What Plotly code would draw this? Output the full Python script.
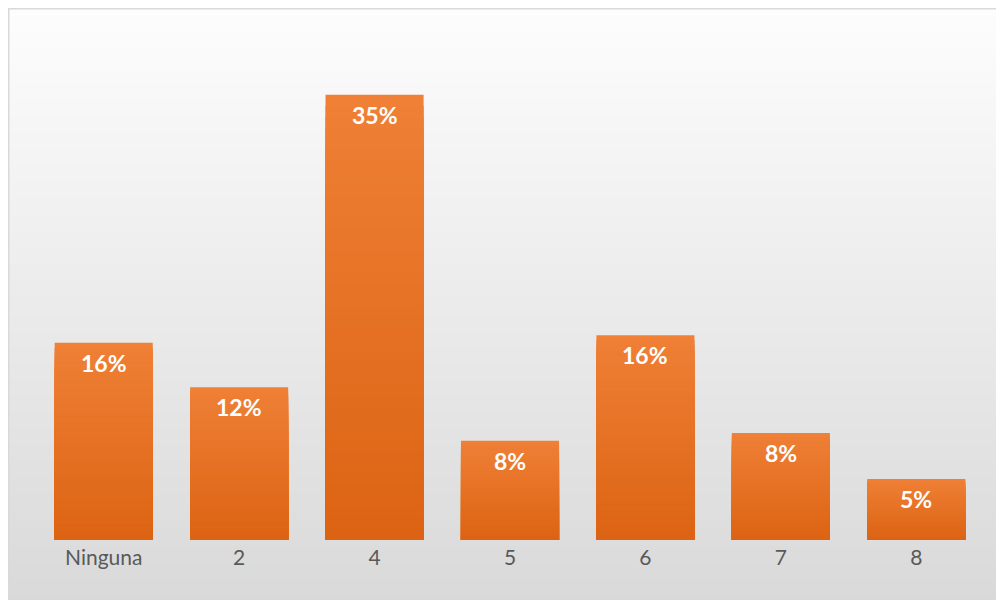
import base64
import struct
import zlib

import plotly.graph_objects as go

# ---- data ----
categories = ["Ninguna", "2", "4", "5", "6", "7", "8"]
values = [15.5, 12.0, 35.0, 7.8, 16.1, 8.4, 4.8]
labels = ["16%", "12%", "35%", "8%", "16%", "8%", "5%"]

# ---- style ----
OFF = 8  # browser body margin
W, H = 1004 - OFF, 600
ML, MR, MT, MB = 36 - OFF, 20, 31 - OFF, 68
TOP_COL = (0xEF, 0x80, 0x36)
BOT_COL = (0xDC, 0x63, 0x13)
N_STEPS = 40


def lerp(c1, c2, t):
    return tuple(round(a + (b - a) * t) for a, b in zip(c1, c2))


def gradient_png(top, bottom, n=256):
    raw = b""
    for i in range(n):
        t = i / (n - 1)
        g = round(top + (bottom - top) * t)
        raw += b"\x00" + bytes([g])

    def chunk(tag, data):
        c = struct.pack(">I", len(data)) + tag + data
        return c + struct.pack(">I", zlib.crc32(tag + data) & 0xFFFFFFFF)

    png = b"\x89PNG\r\n\x1a\n"
    png += chunk(b"IHDR", struct.pack(">IIBBBBB", 1, n, 8, 0, 0, 0, 0))
    png += chunk(b"IDAT", zlib.compress(raw))
    png += chunk(b"IEND", b"")
    return "data:image/png;base64," + base64.b64encode(png).decode()


fig = go.Figure()
idx = list(range(len(categories)))

# gradient bars: overlaid bars of decreasing fraction of the value
for k in range(N_STEPS):
    f = 1 - k / N_STEPS
    t = f - 0.5 / N_STEPS  # position within bar (0 bottom, 1 top)
    col = lerp(BOT_COL, TOP_COL, t)
    fig.add_trace(go.Bar(
        x=idx,
        y=[v * f for v in values],
        marker=dict(color="rgb(%d,%d,%d)" % col, line=dict(width=0)),
        showlegend=False,
        hoverinfo="skip",
    ))

pw = W - ML - MR
ph = H - MT - MB


def px_x(p):
    return (p - ML) / pw


def px_y(p):
    return (H - MB - p) / ph


fig.add_layout_image(dict(
    source=gradient_png(253, 217),
    xref="paper", yref="paper",
    x=px_x(0), y=px_y(0),
    sizex=px_x(W + 5) - px_x(0), sizey=px_y(0) - px_y(H - OFF + 5),
    xanchor="left", yanchor="top",
    sizing="stretch", layer="below",
))

fig.add_shape(type="rect", xref="paper", yref="paper",
              x0=px_x(0.75), y0=px_y(0.75), x1=px_x(W + 10), y1=px_y(H + 10),
              line=dict(color="#D9D9D9", width=1.5), layer="above")

for i, v, lab in zip(idx, values, labels):
    fig.add_annotation(x=i, y=v, text="<b>%s</b>" % lab, showarrow=False,
                       yshift=-20, font=dict(family="Lato", size=23, color="white"))

fig.update_layout(
    width=W, height=H,
    margin=dict(l=ML, r=MR, t=MT, b=MB),
    barmode="overlay",
    bargap=0.276,
    paper_bgcolor="rgb(217,217,217)",
    plot_bgcolor="rgba(0,0,0,0)",
    font=dict(family="Lato", size=21, color="#595959"),
    xaxis=dict(showgrid=False, showline=False, zeroline=False, ticks="",
               tickmode="array", tickvals=idx, ticktext=categories,
               range=[-0.5, len(categories) - 0.5],
               ticklabelstandoff=3,
               tickfont=dict(family="Lato", size=21, color="#595959")),
    yaxis=dict(range=[0, 40], visible=False),
)

fig.write_html("out.html")
